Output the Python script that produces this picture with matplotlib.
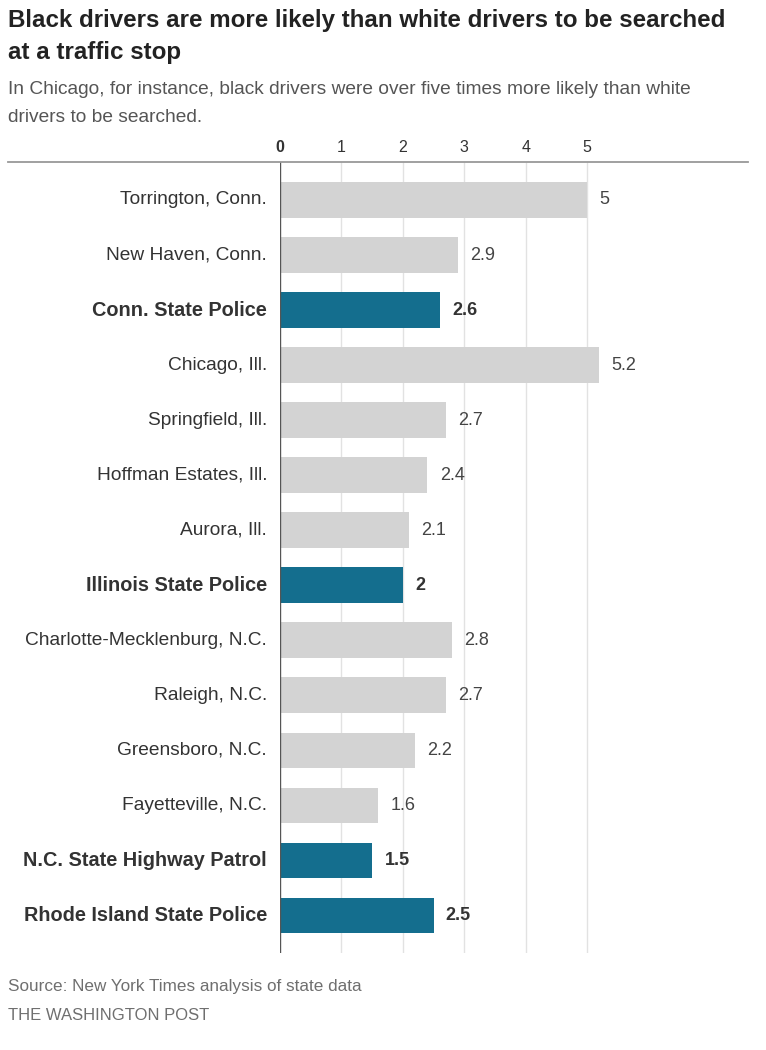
import matplotlib
matplotlib.use("Agg")
import matplotlib.pyplot as plt
from matplotlib.lines import Line2D

LABELS = [
    "Torrington, Conn.",
    "New Haven, Conn.",
    "Conn. State Police",
    "Chicago, Ill.",
    "Springfield, Ill.",
    "Hoffman Estates, Ill.",
    "Aurora, Ill.",
    "Illinois State Police",
    "Charlotte-Mecklenburg, N.C.",
    "Raleigh, N.C.",
    "Greensboro, N.C.",
    "Fayetteville, N.C.",
    "N.C. State Highway Patrol",
    "Rhode Island State Police",
]
VALUES = [5, 2.9, 2.6, 5.2, 2.7, 2.4, 2.1, 2, 2.8, 2.7, 2.2, 1.6, 1.5, 2.5]
IS_STATE = [False, False, True, False, False, False, False, True,
            False, False, False, False, True, True]
TICKS = [0, 1, 2, 3, 4, 5]

GRAY = "#d3d3d3"
TEAL = "#146e8e"
TEXT = "#333333"
MUTED = "#6f6f6f"

plt.rcParams["font.family"] = ["Liberation Sans", "DejaVu Sans"]

fig = plt.figure(figsize=(7.66, 10.5), dpi=100)
ax = fig.add_axes([280 / 766, 1 - 953 / 1050, (748 - 280) / 766, (953 - 162) / 1050])

ypos = list(range(len(LABELS)))
colors = [TEAL if s else GRAY for s in IS_STATE]
ax.barh(ypos, VALUES, height=0.65, color=colors, zorder=2)

for y, v, s in zip(ypos, VALUES, IS_STATE):
    txt = f"{v:g}"
    ax.text(v + 0.2, y, txt, va="center", ha="left", fontsize=13,
            color=TEXT if s else "#444444", fontweight="bold" if s else "normal")
    ax.text(-0.21, y, LABELS[y], va="center", ha="right",
            fontsize=14.3 if s else 13.8,
            color=TEXT, fontweight="bold" if s else "normal")

ax.set_xlim(0, 7.62)
ax.set_ylim(13.68, -0.69)
for t in TICKS[1:]:
    ax.axvline(t, color="#e2e2e2", linewidth=1.0, zorder=1)
ax.axvline(0, color="#555555", linewidth=1.0, zorder=3)
for t in TICKS:
    ax.text(t, -0.95, str(t), ha="center", va="center", fontsize=11.5,
            color=TEXT, fontweight="bold" if t == 0 else "normal")

ax.set_xticks([])
ax.set_yticks([])
for sp in ax.spines.values():
    sp.set_visible(False)

fig.add_artist(Line2D([8 / 766, 748 / 766], [1 - 162 / 1050] * 2,
                      transform=fig.transFigure, color="#999999", linewidth=1.3))

fig.text(8 / 766, 1 - 21 / 1050,
         "Black drivers are more likely than white drivers to be searched",
         fontsize=17.4, fontweight="bold", color="#222222", va="center", ha="left")
fig.text(8 / 766, 1 - 53 / 1050, "at a traffic stop",
         fontsize=17.4, fontweight="bold", color="#222222", va="center", ha="left")
fig.text(8 / 766, 1 - 89 / 1050,
         "In Chicago, for instance, black drivers were over five times more likely than white",
         fontsize=13.8, color="#555555", va="center", ha="left")
fig.text(8 / 766, 1 - 118 / 1050, "drivers to be searched.",
         fontsize=13.8, color="#555555", va="center", ha="left")

fig.text(8 / 766, 1 - 986 / 1050, "Source: New York Times analysis of state data",
         fontsize=12.3, color=MUTED, va="center", ha="left")
fig.text(8 / 766, 1 - 1016 / 1050, "THE WASHINGTON POST",
         fontsize=12, color=MUTED, va="center", ha="left")

fig.savefig("out.png", dpi=100, facecolor="white")
